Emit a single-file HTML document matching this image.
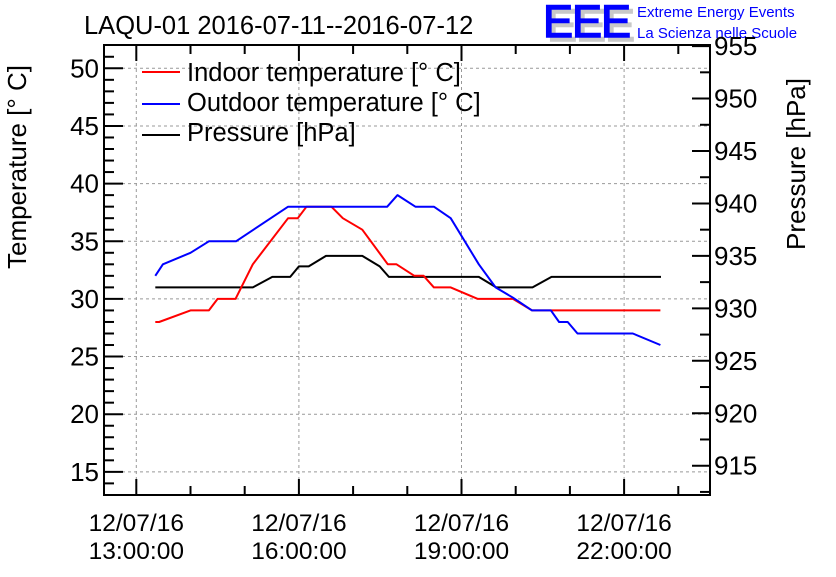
<!DOCTYPE html>
<html><head><meta charset="utf-8"><style>
body{margin:0;background:#fff;width:836px;height:572px;overflow:hidden}
svg{font-family:"Liberation Sans",sans-serif}
</style></head><body>
<svg id="c" width="836" height="572" xmlns="http://www.w3.org/2000/svg">
<rect width="836" height="572" fill="#fff"/>
<text x="84" y="34" font-size="25.5">LAQU-01 2016-07-11--2016-07-12</text>
<g>
<text x="547" y="41" font-size="45" fill="#c8c8c8" letter-spacing="-1" stroke="#c8c8c8" stroke-width="1.5">EEE</text>
<text x="543" y="37" font-size="45" fill="#0000ff" letter-spacing="-1" stroke="#0000ff" stroke-width="1.5">EEE</text>
<text x="637" y="17" font-size="15" fill="#0000ff">Extreme Energy Events</text>
<text x="637" y="38" font-size="15" fill="#0000ff">La Scienza nelle Scuole</text>
</g>
<text transform="translate(26,167) rotate(-90)" text-anchor="middle" font-size="26">Temperature [° C]</text>
<text transform="translate(805,164) rotate(-90)" text-anchor="middle" font-size="26">Pressure [hPa]</text>
<g id="grid"></g><g id="axes"></g><g id="series"></g>
<g>
<g><line x1="142" y1="72" x2="180" y2="72" stroke="#f00" stroke-width="2"/><text x="187" y="81" font-size="25.5">Indoor temperature [° C]</text></g>
<g><line x1="142" y1="104" x2="180" y2="104" stroke="#00f" stroke-width="2"/><text x="187" y="111" font-size="25.5">Outdoor temperature [° C]</text></g>
<g><line x1="142" y1="135" x2="180" y2="135" stroke="#000" stroke-width="2"/><text x="187" y="141" font-size="25.5">Pressure [hPa]</text></g>
</g>
</svg>
<script>
// hours after 12/07/16 13:00
const indoorH=[0.35,0.42,1.0,1.34,1.5,1.83,2.15,2.8,2.98,3.14,3.6,3.81,4.17,4.64,4.8,5.13,5.3,5.49,5.8,6.3,6.95,7.3,9.67];
const indoorT=[28,28,29,29,30,30,33,37,37,38,38,37,36,33,33,32,32,31,31,30,30,29,29];
const outdoorH=[0.35,0.49,1.0,1.34,1.84,2.8,4.63,4.82,5.15,5.49,5.8,6.32,6.63,6.95,7.3,7.65,7.8,7.96,8.14,9.16,9.67];
const outdoorT=[32,33,34,35,35,38,38,39,38,38,37,33,31,30.1,29,29,28,28,27,27,26];
const pressH=[0.35,2.15,2.51,2.84,3.0,3.18,3.5,4.17,4.49,4.66,6.32,6.64,7.31,7.66,9.68];
const pressP=[932,932,933,933,934,934,935,935,934,933,933,932,932,933,933];
const xTickLabels=["12/07/16|13:00:00","12/07/16|16:00:00","12/07/16|19:00:00","12/07/16|22:00:00"];
const xTickHours=[0,3,6,9];
const tTicks=[15,20,25,30,35,40,45,50];
const pTicks=[915,920,925,930,935,940,945,950,955];

const L=104,R=710,T=45,B=495;
const X=h=>136.3+h*54.2;
const YT=t=>68.3+(50-t)*11.53;
const YP=p=>465.7-(p-915)*10.49;
const NS="http://www.w3.org/2000/svg";
function mk(tag,parent,attrs){const e=document.createElementNS(NS,tag);for(const k in attrs)e.setAttribute(k,attrs[k]);parent.appendChild(e);return e;}
const grid=document.getElementById('grid'),axes=document.getElementById('axes'),ser=document.getElementById('series');
xTickHours.forEach(h=>{const g=mk('line',grid,{x1:X(h),x2:X(h),y1:T,y2:B,stroke:'#999','stroke-dasharray':'3,3','stroke-width':1});

});
tTicks.forEach(t=>{const g=mk('line',grid,{x1:L,x2:R,y1:YT(t),y2:YT(t),stroke:'#999','stroke-dasharray':'3,3','stroke-width':1});

});
const fr=mk('rect',axes,{x:L,y:T,width:R-L,height:B-T,fill:'none',stroke:'#000','stroke-width':2});


for(let t=13;t<=52;t++){const y=YT(t);if(y<T+1||y>B-1)continue;const len=t%5==0?19:10;mk('line',axes,{x1:L,x2:L+len,y1:y,y2:y,stroke:'#000','stroke-width':2});}
tTicks.forEach(t=>{const e=mk('text',axes,{x:99,y:YT(t)+9,'text-anchor':'end','font-size':26});e.textContent=t;

});
for(let p=912.5;p<=955;p+=2.5){const y=YP(p);if(y<T+1||y>B-1)continue;const len=(p%5==0)?18:10;mk('line',axes,{x1:R-len,x2:R,y1:y,y2:y,stroke:'#000','stroke-width':2});}
pTicks.forEach(p=>{const y=YP(p);
const e=mk('text',axes,{x:714,y:y+9,'font-size':26});e.textContent=p;

});
for(let h=-0.5;h<=10.5;h+=0.5){const x=X(h);if(x>R-1||x<L+1)continue;const len=(h%3==0)?16:(h%1==0?9:0);if(!len)continue;
mk('line',axes,{x1:x,x2:x,y1:B,y2:B-len,stroke:'#000','stroke-width':2});
mk('line',axes,{x1:x,x2:x,y1:T,y2:T+len,stroke:'#000','stroke-width':2});}
xTickHours.forEach((h,i)=>{const [a,b]=xTickLabels[i].split('|');
const e=mk('text',axes,{x:X(h),y:531,'text-anchor':'middle','font-size':24.5});e.textContent=a;


const f=mk('text',axes,{x:X(h),y:559,'text-anchor':'middle','font-size':24.5});f.textContent=b;

});
function line(hs,vs,fy,col,name){const d=hs.map((h,i)=>(i?'L':'M')+X(h).toFixed(1)+','+fy(vs[i]).toFixed(1)).join('');
const p=mk('path',ser,{d:d,fill:'none',stroke:col,'stroke-width':2,'stroke-linejoin':'round'});

}
line(pressH,pressP,YP,'#000','pressure-line');
line(indoorH,indoorT,YT,'#f00','indoor-temperature-line');
line(outdoorH,outdoorT,YT,'#00f','outdoor-temperature-line');
</script>
</body></html>
